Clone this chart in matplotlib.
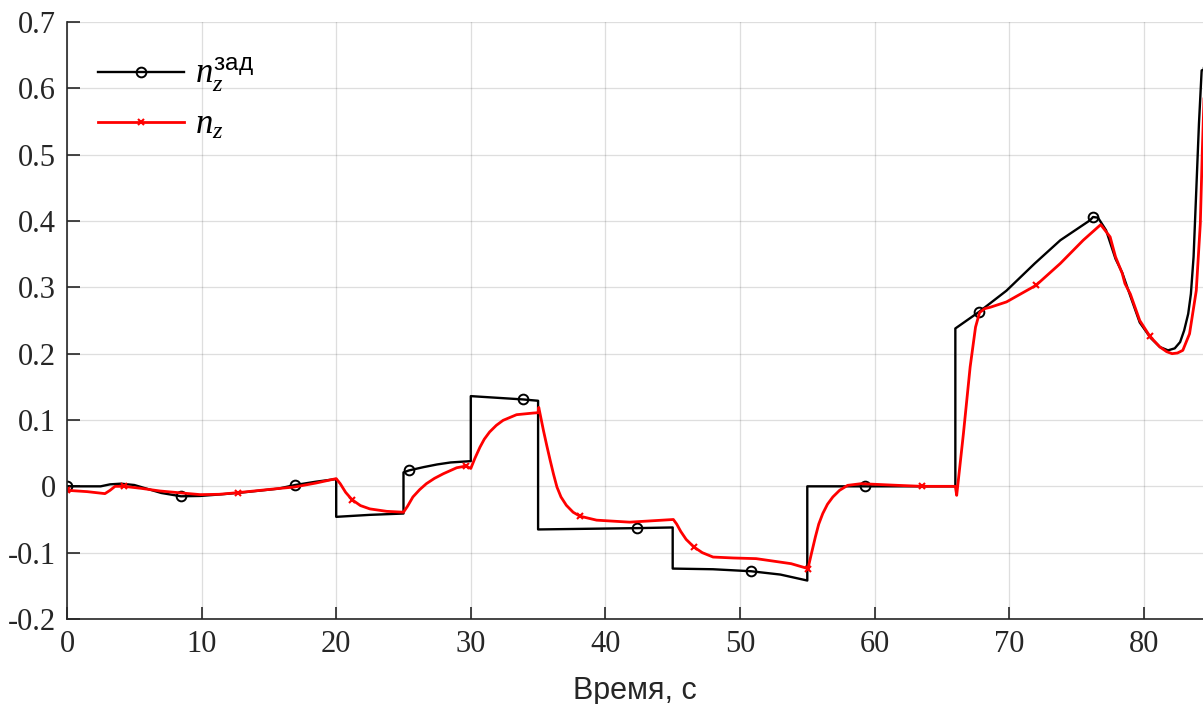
import numpy as np
import matplotlib
matplotlib.use("Agg")
import matplotlib.pyplot as plt

# заданная перегрузка (чёрная)
t_zad = [0, 2.5, 3.2, 4.0, 5.0, 6.0, 7.0, 8.47, 9.9, 11.5, 12.9, 15.7, 16.94, 18.5, 20.0,
         20.0, 22.5, 25.0,
         25.0, 25.41, 26.5, 27.5, 28.5, 30.0,
         30.0, 33.88, 35.0,
         35.0, 42.35, 45.0,
         45.0, 48.0, 50.82, 53.0, 55.0,
         55.0, 59.29, 66.0,
         66.0, 67.76, 69.8, 71.9, 73.8, 76.0, 76.23, 76.6, 77.2, 77.9, 78.4, 79.0, 79.7,
         80.5, 81.2, 81.8, 82.3, 82.7, 83.0, 83.3, 83.5, 83.7, 83.9, 84.1, 84.3, 84.75]
nz_zad = [0, 0, 0.003, 0.004, 0.002, -0.004, -0.010, -0.015, -0.0145, -0.012, -0.0095, -0.0035, 0.002, 0.007, 0.011,
          -0.046, -0.043, -0.041,
          0.021, 0.024, 0.029, 0.033, 0.036, 0.038,
          0.136, 0.131, 0.129,
          -0.065, -0.063, -0.062,
          -0.124, -0.125, -0.128, -0.133, -0.142,
          0.0, 0.0, 0.0,
          0.238, 0.263, 0.295, 0.336, 0.371, 0.401, 0.406, 0.405, 0.386, 0.343, 0.322, 0.287, 0.247,
          0.224, 0.21, 0.205, 0.208, 0.2175, 0.235, 0.26, 0.29, 0.346, 0.446, 0.547, 0.627, 0.63]
mark_zad = [0, 8.47, 16.94, 25.41, 33.88, 42.35, 50.82, 59.29, 67.76, 76.23, 84.75]

# фактическая перегрузка (красная)
t_nz = [0, 1.5, 2.82, 3.2, 3.57, 4.23, 5.5, 6.9, 8.5, 9.9, 11.3, 12.7, 15.6, 16.9, 18.5, 20.0,
        20.3, 20.7, 21.17, 21.8, 22.5, 23.75, 25.0, 25.3, 25.7, 26.2, 26.7, 27.3, 27.96, 28.95, 29.64, 30.0,
        30.3, 30.68, 31.0, 31.4, 31.9, 32.4, 33.4, 34.65, 35.0, 35.05, 35.2, 35.4, 35.65, 35.9, 36.15, 36.4,
        36.7, 37.1, 37.6, 38.11, 39.35, 41.8,
        45.05, 45.3, 45.6, 46.0, 46.58, 47.2, 48.0, 49.5, 51.2, 53.8, 55.05, 55.3, 55.6, 55.85, 56.15, 56.5,
        56.9, 57.4, 58.0, 59.0, 61.7,
        63.52, 66.0, 66.1, 66.6, 67.1, 67.5, 67.8, 68.2, 68.6, 69.8, 71.99, 73.8, 75.5, 76.8, 77.5,
        77.9, 78.4, 78.6, 79.0, 79.7, 80.46, 81.2, 81.7, 82.1, 82.5, 82.9, 83.4, 83.9, 84.2, 84.35, 84.5]
nz = [-0.006, -0.008, -0.011, -0.006, 0.0, 0.0, -0.003, -0.007, -0.010, -0.0125, -0.012, -0.0095, -0.0035, -0.001, 0.005, 0.0116,
      0.004, -0.009, -0.020, -0.029, -0.034, -0.0377, -0.039, -0.030, -0.016, -0.005, 0.004, 0.012, 0.019, 0.028, 0.0306, 0.027,
      0.042, 0.059, 0.071, 0.082, 0.092, 0.0995, 0.108, 0.1105, 0.111, 0.119, 0.104, 0.084, 0.061, 0.039, 0.018, -0.001,
      -0.016, -0.0286, -0.039, -0.045, -0.051, -0.054,
      -0.050, -0.057, -0.068, -0.080, -0.0915, -0.100, -0.1066, -0.108, -0.109, -0.1166, -0.124, -0.102, -0.0764, -0.057, -0.041, -0.027,
      -0.016, -0.006, 0.0015, 0.004, 0.0015,
      0.0, 0.0, -0.0136, 0.0794, 0.18, 0.24, 0.262, 0.268, 0.270, 0.278, 0.303, 0.336, 0.371, 0.3945, 0.376,
      0.346, 0.321, 0.3057, 0.29, 0.25, 0.226, 0.21, 0.203, 0.2, 0.201, 0.205, 0.23, 0.295, 0.396, 0.5065, 0.6]
mark_nz = [0, 4.23, 12.7, 21.17, 29.64, 38.11, 46.58, 55.05, 63.52, 71.99, 80.46]

xticks = list(range(0, 90, 10))
yticks = [-0.2, -0.1, 0, 0.1, 0.2, 0.3, 0.4, 0.5, 0.6, 0.7]

plt.rcParams['axes.unicode_minus'] = False
plt.rcParams['mathtext.fontset'] = 'custom'
plt.rcParams['mathtext.it'] = 'Liberation Serif:italic'
plt.rcParams['mathtext.rm'] = 'Liberation Sans'

fig = plt.figure(figsize=(12.03, 7.04), dpi=100)
ax = fig.add_axes([67 / 1203, 1 - 619 / 704, 1 - 67 / 1203, 597 / 704])

idx_zad = [t_zad.index(m) for m in mark_zad]
idx_nz = [t_nz.index(m) for m in mark_nz]

ax.plot(t_zad, nz_zad, color='black', lw=1.7, marker='o', markevery=idx_zad,
        ms=7, mfc='none', mew=1.4, label=r'$n_z^{\mathrm{зад}}$')
ax.plot(t_nz, nz, color='red', lw=2.0, marker='x', markevery=idx_nz,
        ms=5, mew=1.5, label=r'$n_z$')

ax.set_xlim(0, 84.4)
ax.set_ylim(-0.2, 0.7)
ax.set_xticks(xticks)
ax.set_yticks(yticks)
ax.set_xticklabels([f'{v:g}' for v in xticks], family='Liberation Serif', fontsize=22, color='#262626')
ax.set_yticklabels([f'{v:g}' for v in yticks], family='Liberation Serif', fontsize=22, color='#262626')
ax.tick_params(direction='in', length=9, width=1.2, color='#262626', pad=8)
ax.grid(True, color='#262626', alpha=0.15, lw=0.9)
ax.set_axisbelow(True)
for s in ['top', 'right']:
    ax.spines[s].set_visible(False)
for s in ['left', 'bottom']:
    ax.spines[s].set_color('#262626')
    ax.spines[s].set_linewidth(1.2)

ax.set_xlabel('Время, с', family='Liberation Sans', fontsize=22, color='#262626', labelpad=12)

ax.legend(loc='upper left', bbox_to_anchor=(0.027, 0.943), frameon=False, fontsize=25,
          handlelength=2.5, borderpad=0, borderaxespad=0, labelspacing=0.37, handletextpad=0.3)

fig.savefig('out.png', dpi=100)
